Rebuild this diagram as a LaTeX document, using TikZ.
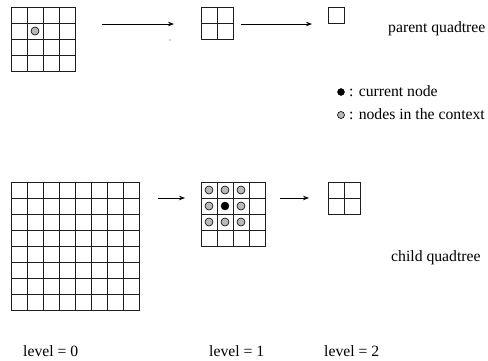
\documentclass[tikz,border=0pt]{standalone}
\usepackage{fontspec}
\setmainfont{Liberation Serif}
\usetikzlibrary{arrows.meta}
\definecolor{ctxgray}{RGB}{185,185,185}
\definecolor{linegray}{RGB}{30,30,30}
\tikzset{
  gridbox/.style={draw=linegray, line width=0.9pt, inner sep=0pt, outer sep=0pt},
  gl/.style={draw=linegray, line width=0.9pt},
  arr/.style={draw=black, line width=0.8pt, -{Stealth[length=6pt,width=4.5pt]}},
  ctx/.style={circle, draw=black, fill=ctxgray, line width=0.6pt, minimum size=8pt, inner sep=0pt},
  cur/.style={circle, draw=black, fill=black, minimum size=8pt, inner sep=0pt},
  lbl/.style={anchor=base west, inner sep=0pt, font=\fontsize{15.7}{18}\selectfont},
}
\begin{document}
\begin{tikzpicture}[x=1pt,y=-1pt]
\useasboundingbox (0,0) rectangle (488,360);
% parent quadtree
\node[gridbox, minimum width=64pt, minimum height=64pt] (pA) at (43,39) {};
\foreach \i in {1,2,3} {
  \draw[gl] ([xshift=\i*16pt]pA.north west) -- ([xshift=\i*16pt]pA.south west);
  \draw[gl] ([yshift=-\i*16pt]pA.north west) -- ([yshift=-\i*16pt]pA.north east);
}
\node[ctx] (pc) at (35,31) {};
\node[gridbox, minimum width=32pt, minimum height=32pt] (pB) at (217,23) {};
\draw[gl] (pB.north) -- (pB.south);
\draw[gl] (pB.west) -- (pB.east);
\node[gridbox, minimum width=16pt, minimum height=16pt] (pC) at (336,15) {};
\coordinate (a1s) at (102,24);
\coordinate (a1e) at (174,24);
\coordinate (a2s) at (241,24);
\coordinate (a2e) at (312,24);
\draw[arr] (a1s) -- (a1e);
\draw[arr] (a2s) -- (a2e);
\node[circle, fill=black!70, minimum size=1.3pt, inner sep=0pt] (dot) at (170,40) {};
\node[lbl] (pt) at (388,32) {parent quadtree};
% legend
\node[cur, minimum size=7pt] (lc) at (341,92) {};
\node[lbl] (lct) at (349,96) {: current node};
\node[ctx, minimum size=7pt] (lx) at (341,115) {};
\node[lbl] (lxt) at (349,119) {: nodes in the context};
% child quadtree
\node[gridbox, minimum width=128pt, minimum height=128pt] (cA) at (75,246) {};
\foreach \i in {1,...,7} {
  \draw[gl] ([xshift=\i*16pt]cA.north west) -- ([xshift=\i*16pt]cA.south west);
  \draw[gl] ([yshift=-\i*16pt]cA.north west) -- ([yshift=-\i*16pt]cA.north east);
}
\node[gridbox, minimum width=64pt, minimum height=64pt] (cB) at (233,214) {};
\foreach \i in {1,2,3} {
  \draw[gl] ([xshift=\i*16pt]cB.north west) -- ([xshift=\i*16pt]cB.south west);
  \draw[gl] ([yshift=-\i*16pt]cB.north west) -- ([yshift=-\i*16pt]cB.north east);
}
\foreach \r in {0,1,2} {
  \foreach \c in {0,1,2} {
    \ifnum\r=1 \ifnum\c=1 \node[cur] (k\r\c) at (209+\c*16,190+\r*16) {};
      \else \node[ctx] (k\r\c) at (209+\c*16,190+\r*16) {}; \fi
    \else \node[ctx] (k\r\c) at (209+\c*16,190+\r*16) {}; \fi
  }
}
\node[gridbox, minimum width=32pt, minimum height=32pt] (cC) at (344,198) {};
\draw[gl] (cC.north) -- (cC.south);
\draw[gl] (cC.west) -- (cC.east);
\coordinate (a3s) at (158,198);
\coordinate (a3e) at (185,198);
\coordinate (a4s) at (280,198);
\coordinate (a4e) at (309,198);
\draw[arr] (a3s) -- (a3e);
\draw[arr] (a4s) -- (a4e);
\node[lbl] (ct) at (391,261) {child quadtree};
% levels
\node[lbl] (l0) at (23,356) {level = 0};
\node[lbl] (l1) at (209,356) {level = 1};
\node[lbl] (l2) at (324,356) {level = 2};
\end{tikzpicture}
\end{document}
